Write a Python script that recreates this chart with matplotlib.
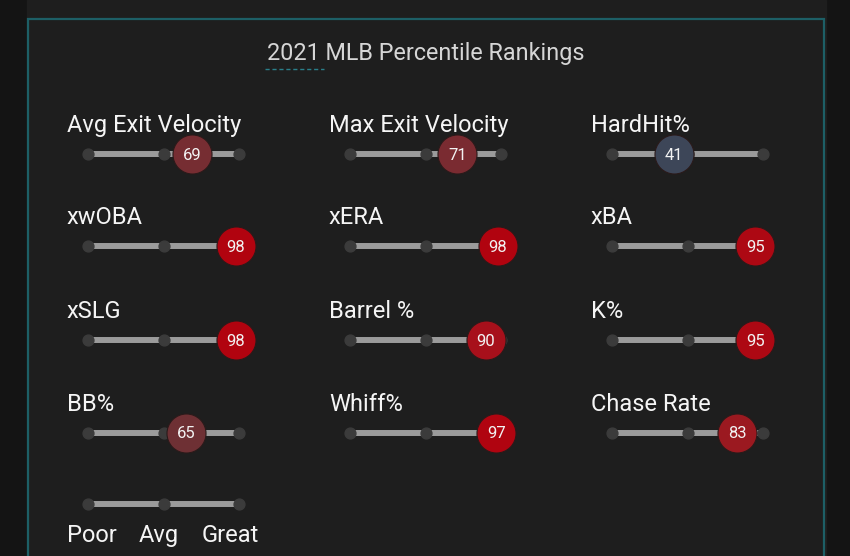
import matplotlib
matplotlib.use("Agg")
import matplotlib.pyplot as plt
from matplotlib.patches import Rectangle
from matplotlib.colors import LinearSegmentedColormap

plt.rcParams['font.family'] = ['Roboto', 'DejaVu Sans']

# data
title = "2021 MLB Percentile Rankings"
metrics = ["Avg Exit Velocity", "Max Exit Velocity", "HardHit%",
           "xwOBA", "xERA", "xBA",
           "xSLG", "Barrel %", "K%",
           "BB%", "Whiff%", "Chase Rate"]
percentiles = [69, 71, 41,
               98, 98, 95,
               98, 90, 95,
               65, 97, 83]
legend_labels = ["Poor", "Avg", "Great"]
legend_ticks = [0, 50, 100]

# layout (pixels)
W, H = 850, 556
col_x = [88, 350, 612]
row_y = [154, 246, 340, 433]
legend_y = 504
bar_len = 151

cmap = LinearSegmentedColormap.from_list("pct", [
    (0.0, "#23467f"), (0.41, "#3d4658"), (0.5, "#4a3f44"),
    (0.65, "#6e3034"), (0.71, "#7a2b31"), (0.83, "#9b1920"),
    (0.90, "#a7101b"), (1.0, "#b3000c")])

fig = plt.figure(figsize=(W / 100, H / 100), dpi=100, facecolor="#141414")
bg = fig.add_axes([0, 0, 1, 1])
bg.set_xlim(0, W)
bg.set_ylim(H, 0)
bg.axis("off")
bg.add_patch(Rectangle((27, 0), 799, H, color="#1e1e1e", zorder=0))
bg.add_patch(Rectangle((28, 19), 796, 600, facecolor="#1e1e1e",
                       edgecolor="#1d5f66", lw=1.6, zorder=1))
bg.text(W / 2 + 1, 60, title, ha="center", va="baseline", fontsize=16.8, color="#d6d6d6")
bg.plot([265, 324], [69, 69], color="#2a7f8a", lw=1.0, ls=(0, (3, 2)))


def slider(x0, yc, pct=None):
    ax = fig.add_axes([x0 / W, (H - yc - 20) / H, bar_len / W, 40 / H])
    ax.set_xlim(0, 100)
    ax.set_ylim(-1, 1)
    ax.axis("off")
    ax.plot([0, 100], [0, 0], color="#9b9b9b", lw=4.3, solid_capstyle="butt",
            zorder=1, clip_on=False)
    ax.plot(legend_ticks, [0, 0, 0], "o", ms=7.8, color="#3b3b3b", zorder=2,
            clip_on=False)
    if pct is not None:
        ax.scatter([pct], [0], s=790, color=cmap(pct / 100), edgecolor="#2a1a1a",
                   lw=0.8, zorder=3, clip_on=False)
        ax.text(pct, -0.05, str(pct), ha="center", va="center", fontsize=12,
                color="#f2f2f2", zorder=4)
    return ax


for i, (name, pct) in enumerate(zip(metrics, percentiles)):
    r, c = divmod(i, 3)
    bg.text(col_x[c] - 21, row_y[r] - 22, name, ha="left", va="baseline",
            fontsize=17, color="#f5f5f5")
    slider(col_x[c], row_y[r], pct)

lg = slider(col_x[0], legend_y)
label_x = [-14, 47, 94]
for x, lab in zip(label_x, legend_labels):
    ha = "left" if x < 0 else "center"
    lg.text(x, -1.9, lab, ha=ha, va="baseline", fontsize=17, color="#f5f5f5",
            clip_on=False)

fig.savefig("out.png", dpi=100, facecolor=fig.get_facecolor())
